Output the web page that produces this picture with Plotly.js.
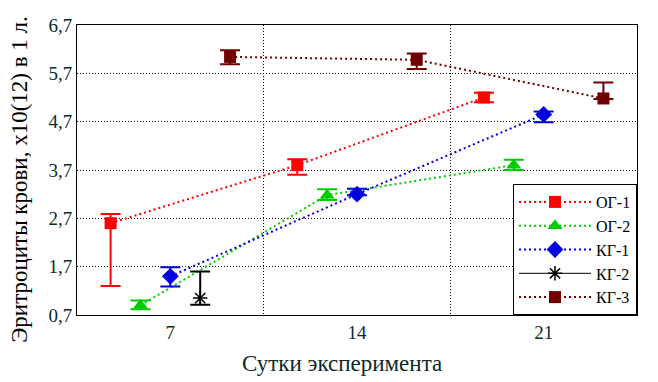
<!DOCTYPE html>
<html>
<head>
<meta charset="utf-8">
<script src="https://cdn.plot.ly/plotly-3.0.1.min.js"></script>
<style>
html,body{margin:0;padding:0;background:#fff;}
#chart{width:658px;height:382px;}
</style>
</head>
<body>
<div id="chart"></div>
<script>
// Days of experiment (categories)
var days = ['7', '14', '21'];

// Series values (erythrocytes, x10(12) per litre) and error bars
var og1 = [2.6, 3.8, 5.2];
var og1Plus = [0.19, 0.12, 0.1];
var og1Minus = [1.3, 0.2, 0.1];

var og2 = [0.9, 3.18, 3.8];
var og2Plus = [0.1, 0.12, 0.11];
var og2Minus = [0.08, 0.1, 0.1];

var kg1 = [1.5, 3.2, 4.85];
var kg1Plus = [0.19, 0.11, 0.06];
var kg1Minus = [0.21, 0.02, 0.16];

var kg2Days = ['7'];
var kg2 = [1.05];
var kg2Plus = [0.55];
var kg2Minus = [0.14];

var kg3 = [6.04, 5.98, 5.18];
var kg3Plus = [0.14, 0.13, 0.33];
var kg3Minus = [0.15, 0.19, 0.01];

var names = ['ОГ-1', 'ОГ-2', 'КГ-1', 'КГ-2', 'КГ-3'];

var yTicks = [0.7, 1.7, 2.7, 3.7, 4.7, 5.7, 6.7];

var xTitle = 'Сутки эксперимента';
var yTitle = 'Эритроциты крови, x10(12) в 1 л.';

function tr(name, x, y, plus, minus, color, symbol, size, dash, lw) {
  return {
    type: 'scatter', mode: 'lines+markers', name: name,
    x: x, y: y, offsetgroup: name,
    line: {color: color, width: lw, dash: dash},
    marker: {color: color, symbol: symbol, size: size, line: {color: color, width: symbol.indexOf('open') >= 0 ? 1.5 : 0}},
    error_y: {type: 'data', symmetric: false, array: plus, arrayminus: minus,
              color: color, thickness: 2, width: 10}
  };
}

var dotted = '2px,3px';
var data = [
  tr(names[0], days, og1, og1Plus, og1Minus, '#ff0000', 'square', 12, dotted, 2),
  tr(names[1], days, og2, og2Plus, og2Minus, '#00cc00', 'triangle-up', 13, dotted, 2),
  tr(names[2], days, kg1, kg1Plus, kg1Minus, '#0000e0', 'diamond', 13, dotted, 2),
  tr(names[3], kg2Days, kg2, kg2Plus, kg2Minus, '#000000', 'asterisk-open', 12, 'solid', 1),
  tr(names[4], days, kg3, kg3Plus, kg3Minus, '#700000', 'square', 12, dotted, 2)
];

var txt = '#0c2a2a';
var layout = {
  width: 658, height: 382,
  margin: {l: 77, r: 21, t: 25, b: 67},
  paper_bgcolor: '#fff', plot_bgcolor: '#fff',
  separators: ', ',
  scattermode: 'group',
  scattergap: 0.2,
  font: {family: '"Liberation Serif", "Times New Roman", serif', color: txt, size: 19},
  showlegend: true,
  legend: {
    x: 1, xanchor: 'right', y: 0, yanchor: 'bottom',
    bgcolor: '#fff', bordercolor: '#000', borderwidth: 1,
    font: {size: 16, color: '#000'},
    itemwidth: 72, tracegroupgap: 0
  },
  xaxis: {
    type: 'category', categoryorder: 'array', categoryarray: days,
    tickson: 'boundaries', ticks: '',
    showgrid: true, gridcolor: '#000', griddash: '1px,2px', gridwidth: 1,
    showline: true, linecolor: '#000', linewidth: 1, mirror: true,
    zeroline: false,
    tickfont: {size: 19, color: txt}
  },
  yaxis: {
    range: [0.7, 6.7], tickvals: yTicks, tickformat: '.1f',
    showgrid: true, gridcolor: '#000', griddash: '1px,2px', gridwidth: 1,
    showline: true, linecolor: '#000', linewidth: 1, mirror: true,
    zeroline: false, ticks: '',
    tickfont: {size: 19, color: txt}
  },
  annotations: [
    {text: xTitle, xref: 'paper', yref: 'paper', x: 0.473, y: 0, yshift: -48,
     xanchor: 'center', yanchor: 'middle', showarrow: false,
     font: {size: 23, color: txt}},
    {text: yTitle, xref: 'paper', yref: 'paper', x: 0, y: 0.466, xshift: -57,
     xanchor: 'center', yanchor: 'middle', textangle: -90, showarrow: false,
     font: {size: 23, color: '#000'}}
  ]
};

Plotly.newPlot('chart', data, layout, {staticPlot: true, displayModeBar: false});
</script>
</body>
</html>
